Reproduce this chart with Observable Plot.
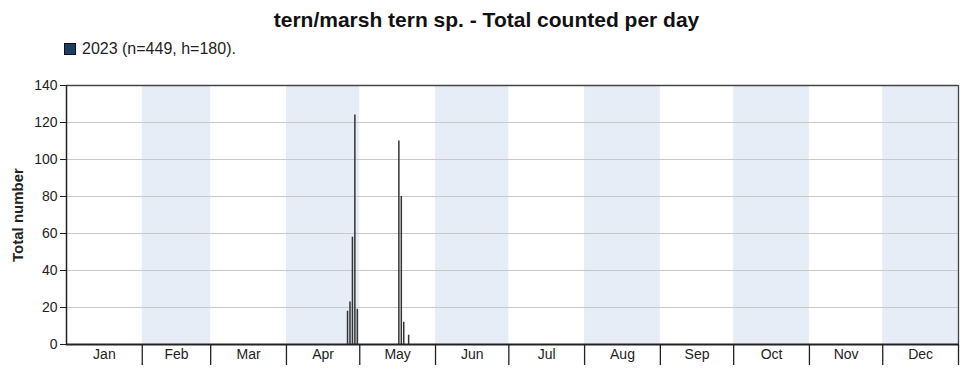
<!DOCTYPE html>
<html>
<head>
<meta charset="utf-8">
<script src="https://cdn.jsdelivr.net/npm/d3@7"></script>
<script src="https://cdn.jsdelivr.net/npm/@observablehq/plot@0.6"></script>
<style>
  body { margin: 0; background: #fff; font-family: "Liberation Sans", Arial, sans-serif; }
  #wrap { position: relative; width: 973px; height: 376px; }
  #title { position: absolute; top: 8px; left: 0; width: 973px; text-align: center; font-weight: bold; font-size: 21px; color: #111; }
  #legend { position: absolute; top: 40px; left: 64px; font-size: 16px; color: #222; display: flex; align-items: center; }
  #legend .sw { width: 10px; height: 10px; background: #1f3d63; border: 1px solid #111; margin-right: 6px; }
  #chart { position: absolute; top: 60px; left: 0; }
  g[aria-label="y-axis label"] text { font-weight: bold; font-size: 15px; }
</style>
</head>
<body>
<div id="wrap">
  <div id="title">tern/marsh tern sp. - Total counted per day</div>
  <div id="legend"><div class="sw"></div><span>2023 (n=449, h=180).</span></div>
  <div id="chart"></div>
</div>
<script>
// Data
const year = 2023;
const months = ["Jan","Feb","Mar","Apr","May","Jun","Jul","Aug","Sep","Oct","Nov","Dec"];
const dates = ["2023-04-26","2023-04-27","2023-04-28","2023-04-29","2023-04-30",
               "2023-05-17","2023-05-18","2023-05-19","2023-05-21"];
const counts = [18, 23, 58, 124, 19, 110, 80, 12, 5];
const yTicks = [0, 20, 40, 60, 80, 100, 120, 140];

const jan1 = new Date(Date.UTC(year, 0, 1));
const doy = s => d3.utcDay.count(jan1, new Date(s + "T00:00:00Z"));
const monthStarts = d3.range(13).map(m => d3.utcDay.count(jan1, new Date(Date.UTC(year, m, 1))));
const monthTable = months.map((name, i) => ({name, i, x1: monthStarts[i], x2: monthStarts[i + 1], mid: (monthStarts[i] + monthStarts[i + 1]) / 2}));
const bars = dates.map((d, i) => ({x: doy(d), y: counts[i]}));
const yearEnd = monthStarts[12];

const chart = Plot.plot({
  width: 973,
  height: 316,
  marginLeft: 66,
  marginRight: 15,
  marginTop: 25,
  marginBottom: 32,
  style: { fontFamily: "'Liberation Sans', Arial, sans-serif", fontSize: "14px", color: "#222" },
  x: { domain: [0, yearEnd] },
  y: { domain: [0, 140] },
  marks: [
    Plot.rectY(monthTable.filter(d => d.i % 2 === 1), {x1: "x1", x2: "x2", y1: 0, y2: 140, fill: "#e6edf7"}),
    Plot.gridY(yTicks, {stroke: "#c8c8c8", strokeOpacity: 1}),
    Plot.ruleX(bars, {x: "x", y1: 0, y2: "y", stroke: "#333", strokeWidth: 1.5}),
    Plot.ruleY([140], {stroke: "#444", strokeWidth: 1.3}),
    Plot.ruleX([yearEnd], {stroke: "#444", strokeWidth: 1.3}),
    Plot.ruleX([0], {stroke: "#222", strokeWidth: 1.5}),
    Plot.ruleY([0], {stroke: "#222", strokeWidth: 1.8}),
    Plot.axisY({ticks: yTicks, tickSize: 6, tickPadding: 3, fontSize: 14, stroke: "#222",
      label: "Total number", labelAnchor: "center", labelArrow: "none", labelOffset: 54}),
    Plot.axisX({ticks: monthStarts.slice(1), tickSize: 21, tickFormat: () => "", stroke: "#222", strokeWidth: 1.3}),
    Plot.axisX({ticks: monthTable.map(d => d.mid), tickSize: 0, tickPadding: 5, fontSize: 14,
      tickFormat: (d, i) => months[i], label: null})
  ]
});
document.getElementById("chart").appendChild(chart);
</script>
</body>
</html>
